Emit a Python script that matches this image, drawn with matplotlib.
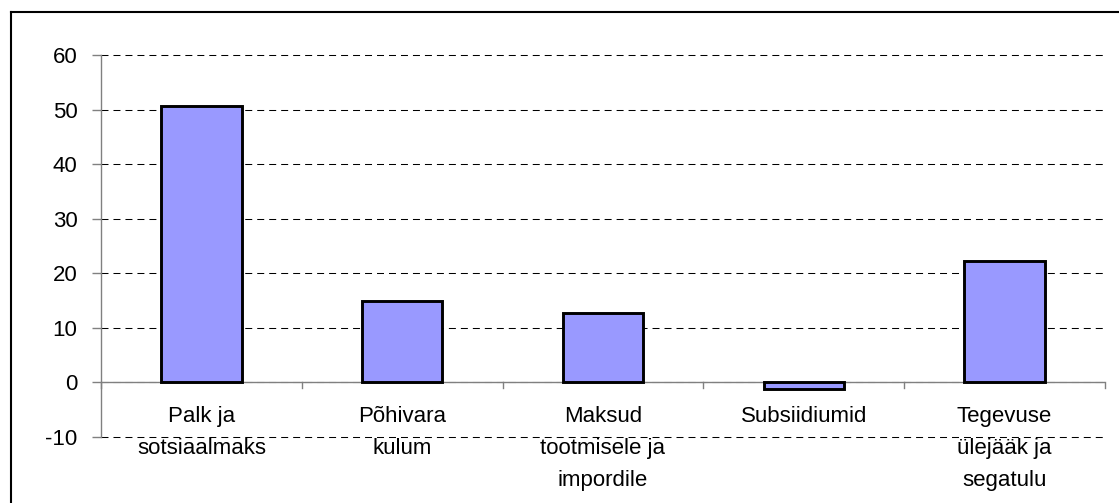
import matplotlib
matplotlib.use("Agg")
import matplotlib.pyplot as plt
from matplotlib.lines import Line2D
import numpy as np

categories = ["Palk ja\nsotsiaalmaks", "Põhivara\nkulum", "Maksud\ntootmisele ja\nimpordile",
              "Subsiidiumid", "Tegevuse\nülejääk ja\nsegatulu"]
values = [50.7, 15.0, 12.8, -1.2, 22.3]
yticks = [-10, 0, 10, 20, 30, 40, 50, 60]

plt.rcParams['font.family'] = ['Liberation Sans', 'DejaVu Sans']

W, H = 1119, 503
fig = plt.figure(figsize=(W / 100, H / 100), dpi=100)
left_px, right_px, top_px, bot_px = 101, 1105, 55, 437
ax = fig.add_axes([left_px / W, 1 - bot_px / H, (right_px - left_px) / W, (bot_px - top_px) / H])

x = np.arange(len(categories))
ax.bar(x, values, width=0.4, color="#9999ff", edgecolor="black", linewidth=2.1, zorder=3)

ax.set_xlim(-0.5, len(categories) - 0.5)
ax.set_ylim(-10, 60)
ax.set_yticks(yticks)
ax.set_yticklabels([str(v) for v in yticks], fontsize=16)
ax.tick_params(axis='y', length=6.5, width=1, color='#808080', pad=10.5)

for v in yticks:
    ax.axhline(v, color='black', linestyle=(0, (6.7, 4.8)), linewidth=0.75, zorder=1, clip_on=False)

ax.set_xticks([])
for xi, lab in zip(x, categories):
    ax.text(xi, -4.4, lab, ha='center', va='top', fontsize=16, linespacing=1.68, zorder=4)

for s in ['top', 'right', 'bottom']:
    ax.spines[s].set_visible(False)
ax.spines['left'].set_color('#808080')
ax.spines['left'].set_linewidth(1)
ax.axhline(0, color='#808080', linewidth=1, zorder=2)

for xb in np.arange(len(categories) + 1) - 0.5:
    ax.plot([xb, xb], [0, -1.1], color='#808080', linewidth=1, clip_on=False, zorder=2)

# outer frame (left and top lines)
fx0, fy0 = 11 / W, 1 - 12 / H
fig.add_artist(Line2D([fx0, fx0], [0, fy0], transform=fig.transFigure, color='black', linewidth=1.5))
fig.add_artist(Line2D([fx0, 1], [fy0, fy0], transform=fig.transFigure, color='black', linewidth=1.5))

fig.savefig("out.png", dpi=100, facecolor='white')
